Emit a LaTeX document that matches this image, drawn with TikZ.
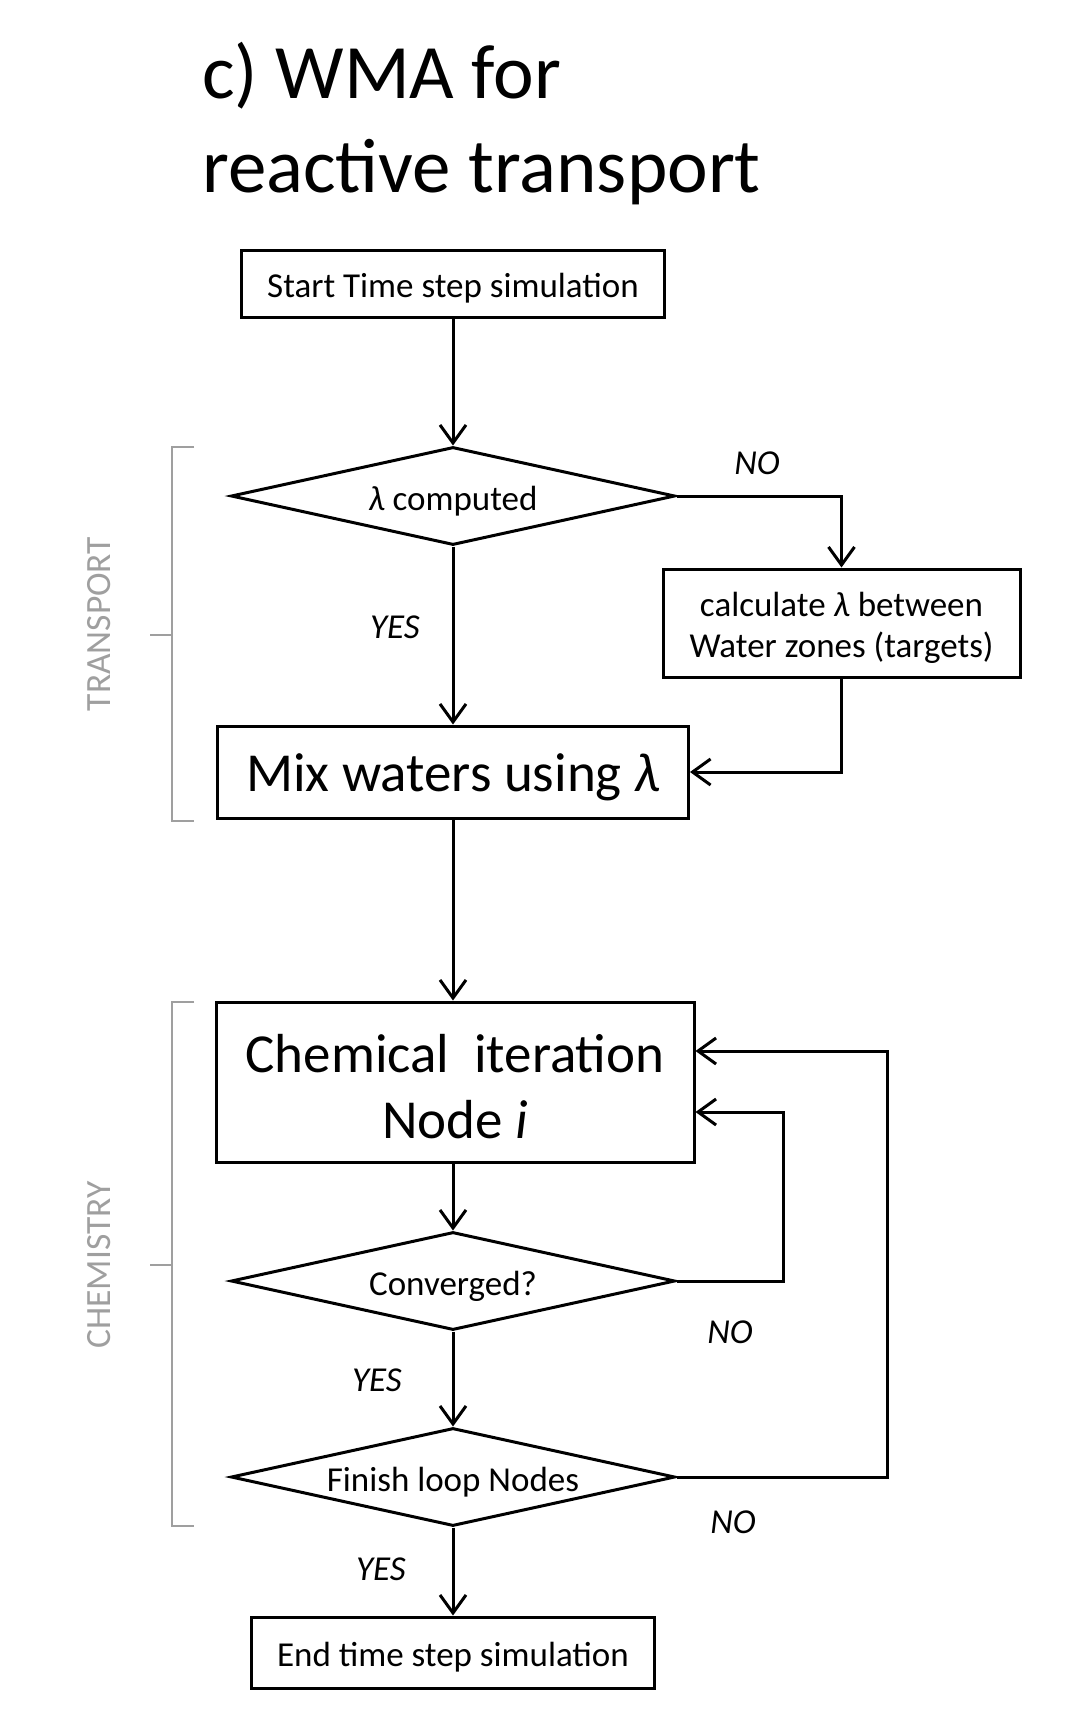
\documentclass[tikz,border=0pt]{standalone}
\usepackage{fontspec}
\setmainfont{Carlito}
\usetikzlibrary{shapes.geometric,arrows.meta}
\newcommand\lowr[1]{\raisebox{-5pt}[\height][\depth]{#1}}
\begin{document}
\begin{tikzpicture}[x=1pt,y=-1pt,
 box/.style={draw, line width=3pt, rectangle, inner sep=0pt, align=center},
 dec/.style={draw, line width=3pt, diamond, aspect=4.5, inner sep=0pt, minimum width=444pt, minimum height=98pt},
 small/.style={font=\fontsize{35}{41}\selectfont},
 big/.style={font=\fontsize{55}{66}\selectfont},
 lab/.style={font=\fontsize{35}{40}\selectfont\itshape, inner sep=0pt},
 flow/.style={line width=3pt, -{Straight Barb[length=18pt,width=26pt,line width=3pt]}},
 brk/.style={draw=gray!75, line width=2.5pt},
 side/.style={text=gray!75, font=\fontsize{35.5}{40}\selectfont, rotate=90, inner sep=0pt},
 ttl/.style={anchor=base west, font=\fontsize{77}{94}\selectfont, inner sep=0pt}
]
\useasboundingbox (0,0) rectangle (1077,1722);

% title
\node[ttl] (t1) at (202,98) {c) WMA for};
\node[ttl] (t2) at (202,192) {reactive transport};

% nodes
\node[box, small, minimum width=423pt, minimum height=67pt] (start) at (453,283.5) {\lowr{Start Time step simulation}};
\node[dec, small] (lam) at (453,496) {\lowr{\textit{λ} computed}};
\node[box, small, minimum width=357pt, minimum height=108pt] (calc) at (841.5,623) {\lowr{calculate \textit{λ} between}\\\lowr{Water zones (targets)}};
\node[box, big, minimum width=471pt, minimum height=92pt] (mix) at (453,772) {\lowr{Mix waters using \textit{λ}}};
\node[box, big, minimum width=478pt, minimum height=160pt] (chem) at (455,1082) {\lowr{Chemical\ \ iteration}\\\lowr{Node \textit{i}}};
\node[dec, small] (conv) at (453,1281) {\lowr{Converged?}};
\node[dec, small] (fin) at (453,1477) {\lowr{Finish loop Nodes}};
\node[box, small, minimum width=403pt, minimum height=71pt] (end) at (453,1652.5) {\lowr{End time step simulation}};

% connectors
\draw[flow] (start) -- (lam);
\draw[flow] (lam.east) -| (calc.north);
\draw[flow] (lam) -- (mix);
\draw[flow] (calc.south) |- (mix.east);
\draw[flow] (mix.south) -- (mix.south |- chem.north);
\draw[flow] (conv.north |- chem.south) -- (conv);
\draw[flow] (conv) -- (fin);
\draw[flow] (fin) -- (end);
\coordinate (l1) at (783,1112);
\coordinate (l2) at (887,1051);
\draw[flow] (conv.east) -| (l1) -- (l1 -| chem.east);
\draw[flow] (fin.east) -| (l2) -- (l2 -| chem.east);

% labels
\node[lab] (no1) at (757,463) {NO};
\node[lab] (yes1) at (395,627) {YES};
\node[lab] (no2) at (730,1332) {NO};
\node[lab] (yes2) at (377,1380) {YES};
\node[lab] (no3) at (733,1522) {NO};
\node[lab] (yes3) at (381,1569) {YES};

% brackets
\coordinate (b1a) at (194,447); \coordinate (b1b) at (172,447);
\coordinate (b1c) at (172,821); \coordinate (b1d) at (194,821);
\coordinate (b1m) at (172,635); \coordinate (b1t) at (150,635);
\draw[brk] (b1a) -- (b1b) -- (b1c) -- (b1d);
\draw[brk] (b1m) -- (b1t);
\coordinate (b2a) at (194,1002); \coordinate (b2b) at (172,1002);
\coordinate (b2c) at (172,1526); \coordinate (b2d) at (194,1526);
\coordinate (b2m) at (172,1265); \coordinate (b2t) at (150,1265);
\draw[brk] (b2a) -- (b2b) -- (b2c) -- (b2d);
\draw[brk] (b2m) -- (b2t);
\node[side] (tr) at (99,624) {TRANSPORT};
\node[side] (ch) at (99,1265) {CHEMISTRY};
\end{tikzpicture}
\end{document}
